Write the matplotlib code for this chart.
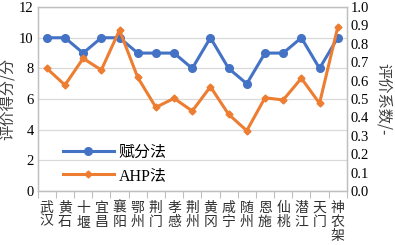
import matplotlib
matplotlib.use('Agg')
import matplotlib.pyplot as plt
import numpy as np

plt.rcParams['font.family'] = ['Liberation Serif', 'Noto Sans CJK SC']

# ---------------------------------------------------------------------------
# Data
# ---------------------------------------------------------------------------
cities = ['武\n汉', '黄\n石', '十\n堰', '宜\n昌', '襄\n阳', '鄂\n州', '荆\n门', '孝\n感',
          '荆\n州', '黄\n冈', '咸\n宁', '随\n州', '恩\n施', '仙\n桃', '潜\n江', '天\n门',
          '神\n农\n架']
score = [10, 10, 9, 10, 10, 9, 9, 9, 8, 10, 8, 7, 9, 9, 10, 8, 10]
ahp = [0.667, 0.576, 0.721, 0.658, 0.875, 0.618, 0.455, 0.504, 0.435, 0.567,
       0.417, 0.328, 0.507, 0.495, 0.613, 0.477, 0.89]

BLUE = '#4472C4'
ORANGE = '#ED7D31'
FRAME = '#BFBFBF'

fig = plt.figure(figsize=(3.95, 2.45), dpi=100)
ax = fig.add_axes([0.0954, 0.2204, 0.7826, 0.7506])
ax2 = ax.twinx()

x = np.arange(len(cities))
l1, = ax.plot(x, score, color=BLUE, lw=2.2, marker='o', ms=5.5, label='赋分法', zorder=3)
l2, = ax2.plot(x, ahp, color=ORANGE, lw=2.2, marker='D', ms=3.5, label='AHP法', zorder=3)

ax.set_xlim(-0.5, len(cities) - 0.5)
ax.set_ylim(0, 12)
ax.set_yticks(range(0, 13, 2))
ax2.set_ylim(0, 1.0)
ax2.set_yticks(np.arange(0, 1.01, 0.1))
ax2.set_yticklabels([f'{v:.1f}' for v in np.arange(0, 1.01, 0.1)])

ax.grid(axis='y', color='#D9D9D9', lw=0.9)
ax.set_axisbelow(True)

# category ticks at boundaries, labels in between
ax.set_xticks(np.arange(-0.5, len(cities), 1.0))
ax.set_xticklabels([])
ax.set_xticks(x, minor=True)
ax.set_xticklabels(cities, minor=True, fontsize=10, linespacing=1.0, va='top',
                   family=['Noto Sans CJK SC'], color='#303030')
ax.tick_params(axis='x', which='major', length=5, color=FRAME, direction='out')
ax.tick_params(axis='x', which='minor', length=0, pad=7)
ax.tick_params(axis='y', length=0, labelsize=10.5, pad=3)
ax2.tick_params(axis='y', length=0, labelsize=10.5, pad=3)

for a in (ax, ax2):
    for s in a.spines.values():
        s.set_color(FRAME)
        s.set_linewidth(0.9)

ax.set_ylabel('评价得分/分', fontsize=11, family=['Noto Sans CJK SC'], color='#404040', labelpad=2)
ax2.set_ylabel('评价系数/-', fontsize=11, family=['Noto Sans CJK SC'], color='#404040',
               rotation=270, va='bottom', labelpad=4)

ax2.legend(handles=[l1, l2], loc='lower left', bbox_to_anchor=(0.035, -0.04), frameon=False,
           handlelength=3.2, handletextpad=0.3, labelspacing=0.45,
           prop={'family': ['Liberation Serif', 'Noto Sans CJK SC'], 'size': 11.5})

fig.savefig('out.png', dpi=100)
